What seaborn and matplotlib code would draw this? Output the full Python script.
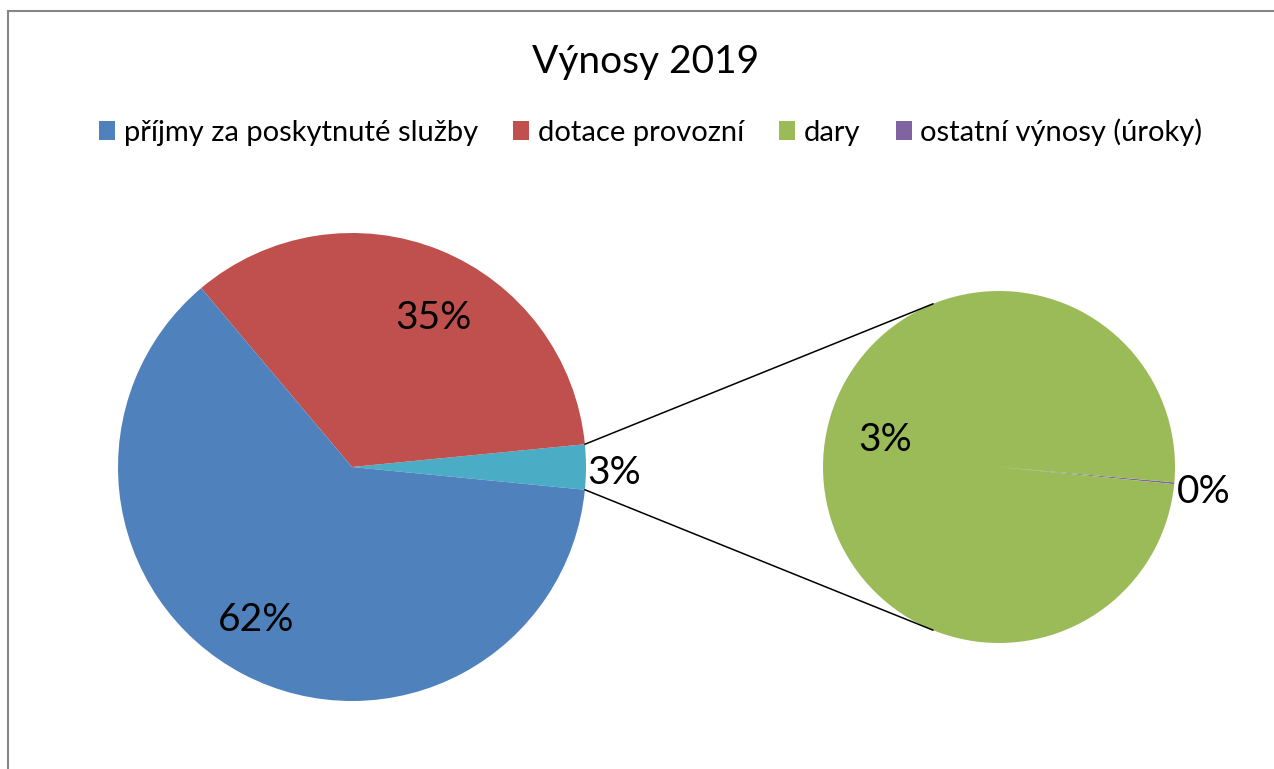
import numpy as np
import matplotlib.pyplot as plt
import seaborn as sns
from matplotlib.patches import Patch, Rectangle

sns.set_theme(style="white")
plt.rcParams['font.family'] = ['Lato', 'DejaVu Sans']
plt.rcParams['text.color'] = 'black'

# data (share of total revenue, %)
categories = ['příjmy za poskytnuté služby', 'dotace provozní', 'dary', 'ostatní výnosy (úroky)']
values = [62.3, 34.6, 3.095, 0.005]
colors = ['#4F81BD', '#C0504D', '#9BBB59', '#8064A2']
other_color = '#4BACC6'
title = 'Výnosy 2019'

W, H = 1274, 769
fig = plt.figure(figsize=(W / 100, H / 100), dpi=100)
ax = fig.add_axes([0, 0, 1, 1])

# layout of the two pies (pixel-like data units, y up)
c1, r1 = (352, 302), 234
c2, r2 = (999, 302), 176
dy = -6  # label baseline nudge


def polar(c, r, ang, shift=0):
    a = np.radians(ang)
    return c[0] + r * np.cos(a), c[1] + r * np.sin(a) + shift


total = sum(values)
other = values[2] + values[3]
main_vals = [other, values[1], values[0]]
start1 = -180 * other / total
w1, t1, a1 = ax.pie(main_vals, colors=[other_color, colors[1], colors[0]],
                    startangle=start1, counterclock=True, center=c1, radius=r1,
                    autopct=lambda p: f'{p:.0f}%', pctdistance=0.75,
                    wedgeprops=dict(linewidth=0), frame=True,
                    textprops=dict(fontsize=28, color='black'))
a1[0].set_position(polar(c1, 1.12 * r1, 0, dy))
for w, t in zip(w1[1:], a1[1:]):
    mid = (w.theta1 + w.theta2) / 2 - 5.5
    t.set_position(polar(c1, 0.75 * r1, mid, dy))

sec_vals = [values[3], values[2]]
sec_angle = -5.3
start2 = sec_angle - 180 * values[3] / other
w2, t2, a2 = ax.pie(sec_vals, colors=[colors[3], colors[2]],
                    startangle=start2, counterclock=True, center=c2, radius=r2,
                    autopct=lambda p: f'{p * other / total:.0f}%', pctdistance=0.67,
                    wedgeprops=dict(linewidth=0), frame=True,
                    textprops=dict(fontsize=28, color='black'))
a2[0].set_position(polar(c2, 1.17 * r2, -6.4, -2))
a2[1].set_position(polar(c2, 0.67 * r2, 165, -4))

# connector lines
half = 180 * other / total
join = 112
for s in (1, -1):
    x0, y0 = polar(c1, r1, s * half)
    x1, y1 = polar(c2, r2, s * join)
    ax.plot([x0, x1], [y0, y1], color='black', lw=1.1)

ax.set_xlim(0, W)
ax.set_ylim(0, H)
ax.set_aspect('equal')
ax.axis('off')

fig.text(0.507, 1 - 62 / H, title, ha='center', va='center', fontsize=28, color='black')

handles = [Patch(facecolor=c, edgecolor='none') for c in colors]
fig.legend(handles, categories, loc='center', bbox_to_anchor=(0.511, 1 - 132 / H), ncol=4,
           frameon=False, handlelength=0.55, handleheight=0.6,
           handletextpad=0.3, columnspacing=1.2, prop=dict(size=21))

fig.patches.append(Rectangle((8 / W, -0.05), 1.1, 1 - 11 / H + 0.05, transform=fig.transFigure,
                             fill=False, edgecolor='#868686', lw=1.5))

fig.savefig('out.png', dpi=100)
